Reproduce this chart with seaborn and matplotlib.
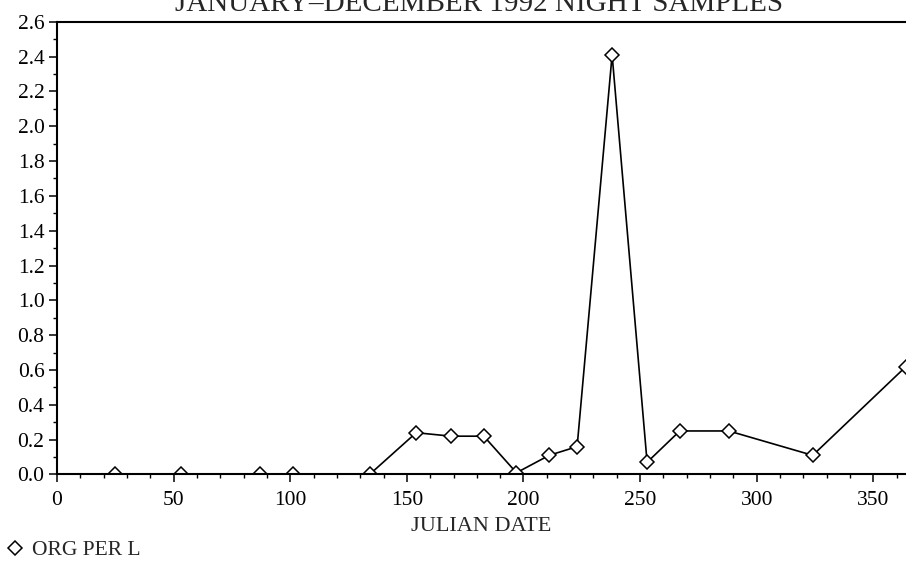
import matplotlib
matplotlib.use("Agg")
import matplotlib.pyplot as plt
from matplotlib.lines import Line2D
from matplotlib.ticker import MultipleLocator, FormatStrFormatter
import seaborn as sns
import pandas as pd

julian_date = [25, 53, 87, 101, 134, 154, 169, 183, 197, 211, 223, 238, 253, 267, 288, 324, 364]
org_per_l = [0.0, 0.0, 0.0, 0.0, 0.0, 0.24, 0.22, 0.22, 0.01, 0.11, 0.16, 2.41, 0.07, 0.25, 0.25, 0.11, 0.62]
title = "JANUARY\u2013DECEMBER 1992 NIGHT SAMPLES"
x_label = "JULIAN DATE"
series_name = "ORG PER L"

df = pd.DataFrame({"day": julian_date, "value": org_per_l})

sns.set_style("ticks")
plt.rcParams["font.family"] = ["Liberation Serif", "DejaVu Serif"]

fig = plt.figure(figsize=(9.06, 5.62), dpi=100)
ax = fig.add_axes([0.0629, 0.1557, 0.9371, 0.8057])

sns.lineplot(data=df, x="day", y="value", ax=ax, color="black", linewidth=1.2,
             marker="D", markersize=7, markerfacecolor="white",
             markeredgecolor="black", markeredgewidth=1.1)
for ln in ax.lines:
    ln.set_clip_on(True)

ax.set_xlim(0, 364)
ax.set_ylim(0, 2.6)
ax.xaxis.set_major_locator(MultipleLocator(50))
ax.xaxis.set_minor_locator(MultipleLocator(10))
ax.yaxis.set_major_locator(MultipleLocator(0.2))
ax.yaxis.set_minor_locator(MultipleLocator(0.1))
ax.yaxis.set_major_formatter(FormatStrFormatter("%.1f"))

ax.tick_params(axis="both", which="major", direction="out", length=6, width=1.1,
               labelsize=15.5, pad=3, color="black", labelcolor="black")
ax.tick_params(axis="both", which="minor", direction="out", length=3, width=1.0,
               color="black")
ax.tick_params(axis="x", which="major", pad=6)

for s in ["left", "bottom", "top"]:
    ax.spines[s].set_linewidth(1.5)
    ax.spines[s].set_color("black")
ax.spines["right"].set_visible(False)

ax.set_xlabel(x_label, fontsize=16, labelpad=5)
ax.set_ylabel("")

fig.text(0.529, 1 - 11 / 562, title, ha="center", va="baseline", fontsize=21)

handle = Line2D([], [], linestyle="none", marker="D", markersize=7,
                markerfacecolor="white", markeredgecolor="black", markeredgewidth=1.1)
fig.legend([handle], [series_name], loc="lower left", bbox_to_anchor=(-0.007, -0.02),
           frameon=False, fontsize=15.5, handlelength=0.8, handletextpad=0.4,
           borderaxespad=0.2)

fig.savefig("out.png", dpi=100)
